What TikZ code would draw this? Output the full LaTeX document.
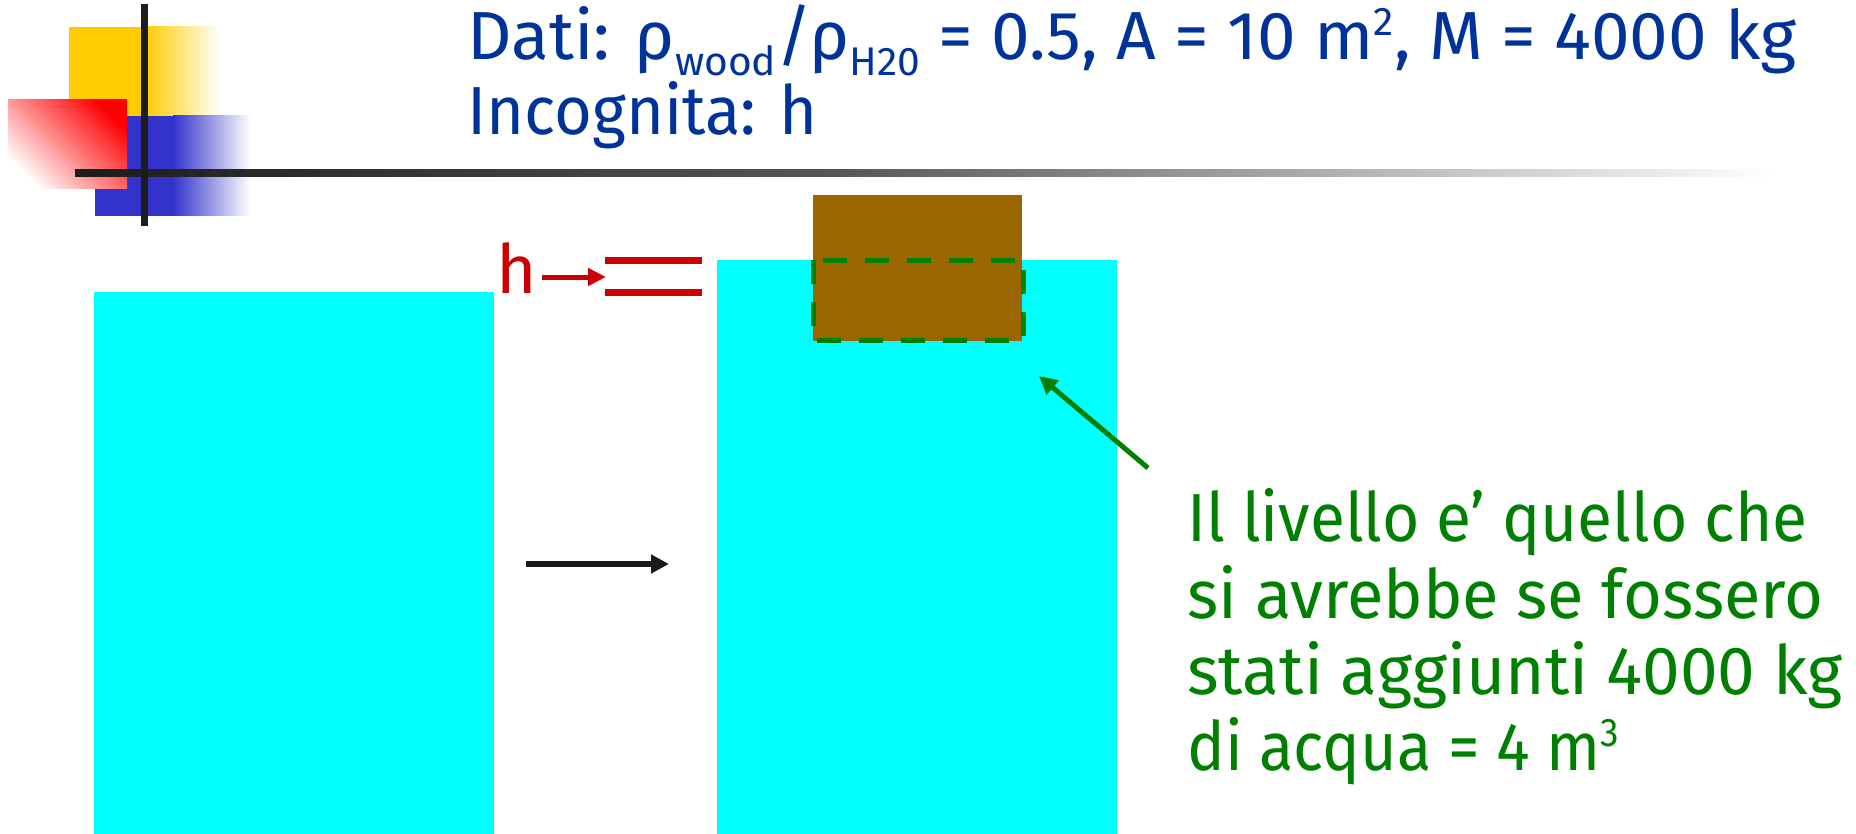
\documentclass[tikz,border=0pt]{standalone}
\usepackage{fontspec}
\setmainfont{Fira Sans}
\usetikzlibrary{arrows.meta}
\definecolor{titleblue}{RGB}{0,51,153}
\definecolor{hred}{RGB}{204,0,0}
\definecolor{wgreen}{RGB}{0,128,0}
\definecolor{woodbrown}{RGB}{153,102,0}
\definecolor{water}{RGB}{0,255,255}
\definecolor{logoyellow}{RGB}{255,204,0}
\definecolor{logoblue}{RGB}{51,51,204}
\definecolor{logobar}{RGB}{28,28,28}
\definecolor{bargray}{RGB}{85,85,85}
\definecolor{arrowblack}{RGB}{26,26,26}
\newlength\titlew
\newcommand\bigtxt{\fontsize{34}{40}\selectfont}
\newcommand\subtxt[1]{\raisebox{-8pt}{\fontsize{20}{20}\selectfont #1}}
\newcommand\suptxt[1]{\raisebox{12pt}{\fontsize{20}{20}\selectfont #1}}
\newcommand\titleone{Dati: ρ\subtxt{wood}/ρ\subtxt{H20} = 0.5, A = 10 m\suptxt{2}, M = 4000 kg}
\newcommand\fitw[2]{\resizebox{#1pt}{\height}{#2}}
\begin{document}
\settowidth\titlew{\bigtxt\titleone}%
\pgfmathsetmacro\tsx{664.5/\titlew}%
\begin{tikzpicture}[x=0.5pt,y=-0.5pt,
  titletext/.style={anchor=base west, inner sep=0pt, text=titleblue, font=\bigtxt},
  notetext/.style={anchor=base west, inner sep=0pt, text=wgreen, font=\bigtxt},
  blackarrow/.style={-{Triangle[length=9pt,width=9pt]}, line width=2.75pt, draw=arrowblack},
  redarrow/.style={-{Triangle[length=9pt,width=8.5pt]}, line width=2.5pt, draw=hred},
  greenarrow/.style={-{Triangle[length=9pt,width=9pt]}, line width=2.5pt, draw=wgreen},
  levelline/.style={line width=3.5pt, draw=hred},
  dashedbox/.style={draw=wgreen, line width=2.5pt, dash pattern=on 12pt off 9pt},
]
\useasboundingbox (0,0) rectangle (1856,834);
\fill[white] (0,0) rectangle (1856,834);
% logo
\fill[logoyellow] (69,27) rectangle (146,116);
\shade[left color=logoyellow,right color=white] (145,27) rectangle (220,116);
\fill[logoblue] (95,116) rectangle (174,216);
\shade[left color=logoblue,right color=white] (173,116) rectangle (250,216);
\shade[top color=white,bottom color=red,shading angle=135] (8,100) rectangle (127,189);
\shade[left color=logobar,right color=bargray] (75,170) rectangle (831,177);
\shade[left color=bargray,right color=white] (830,170) rectangle (1775,177);
\fill[logobar] (141,4) rectangle (148,226);
% title
\node[titletext] (t1) at (467,60) {\scalebox{\tsx}[1]{\titleone}};
\node[titletext] (t2) at (467,135) {\fitw{175}{Incognita: h}};
% tanks
\fill[water] (94,292) rectangle (494,834);
\fill[water] (717,260) rectangle (1117,834);
% wood block
\fill[woodbrown] (813,195) rectangle (1022,341);
\draw[dashedbox] (813,260) rectangle (1023,340);
% level lines
\draw[levelline] (605,260) -- (702,260);
\draw[levelline] (605,292) -- (702,292);
\node[anchor=base west, inner sep=0pt, text=hred, font=\bigtxt] (hlab) at (496,293) {\scalebox{\tsx}[1]{h}};
\coordinate (hs) at (542,277);
\coordinate (he) at (606,277);
\draw[redarrow] (hs) -- (he);
% middle arrow
\coordinate (ms) at (526,564);
\coordinate (me) at (669,564);
\draw[blackarrow] (ms) -- (me);
% green note
\node[notetext] (n1) at (1187,541) {\fitw{310}{Il livello e' quello che}};
\node[notetext] (n2) at (1187,618) {\fitw{318}{si avrebbe se fossero}};
\node[notetext] (n3) at (1187,694) {\fitw{327.5}{stati aggiunti 4000 kg}};
\node[notetext] (n4) at (1187,770) {\fitw{216}{di acqua = 4 m\suptxt{3}}};
\coordinate (gs) at (1148,468);
\coordinate (ge) at (1039,376);
\draw[greenarrow] (gs) -- (ge);
\end{tikzpicture}
\end{document}
